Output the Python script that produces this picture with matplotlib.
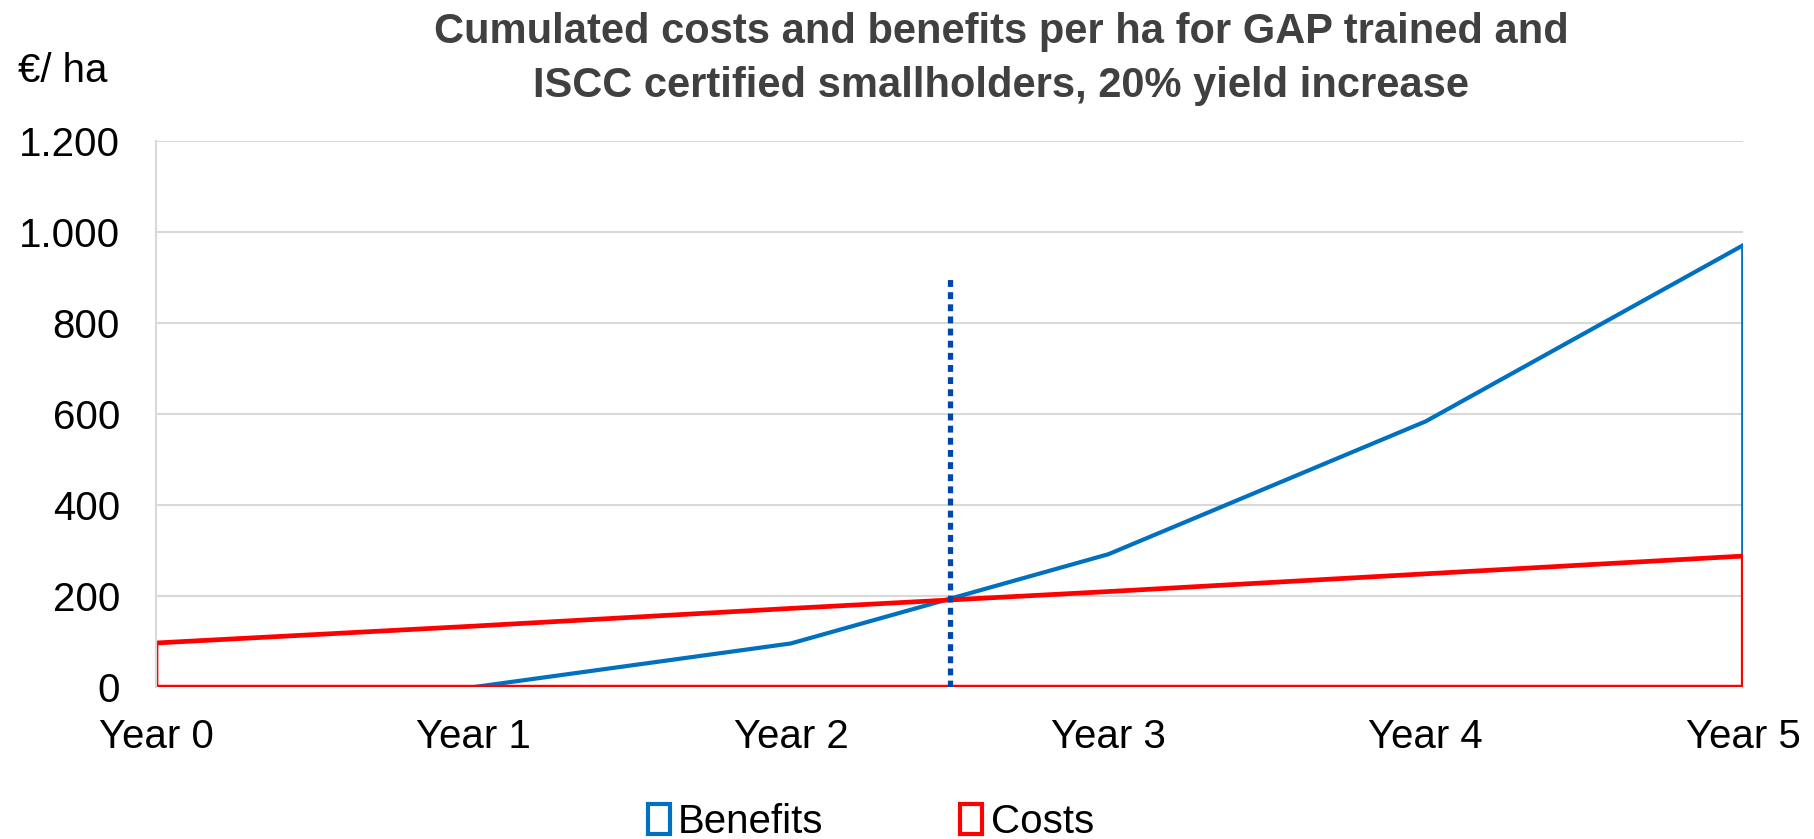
import matplotlib.pyplot as plt
from matplotlib.patches import Patch
from matplotlib.ticker import FuncFormatter

plt.rcParams['font.family'] = ['Liberation Sans', 'DejaVu Sans']

years = ["Year 0", "Year 1", "Year 2", "Year 3", "Year 4", "Year 5"]
benefits = [0, 0, 96, 292, 584, 971]
costs = [97, 134, 173, 210, 249, 288]
break_even = 2.5
break_even_top = 905

x = list(range(len(years)))

fig = plt.figure(figsize=(18.14, 8.39), dpi=100)
ax = fig.add_axes([0.086, 0.181, 0.875, 0.651])

# area outlines (no fill), as in the original spreadsheet chart
ax.fill(x + [x[-1], x[0]], benefits + [0, 0], fill=False, edgecolor="#0070C0", lw=3.0, joinstyle="miter")
ax.fill(x + [x[-1], x[0]], costs + [0, 0], fill=False, edgecolor="#FF0000", lw=3.4, joinstyle="miter")
ax.plot([x[0], x[0]], [0, costs[0]], color="#FF0000", lw=1)

ax.vlines(break_even, 0, break_even_top, color="#0047AB", lw=3.8, linestyles=(0, (1.3, 1.0)))

ax.set_xlim(0, 5)
ax.set_ylim(0, 1200)
ax.set_yticks(range(0, 1201, 200))
ax.yaxis.set_major_formatter(FuncFormatter(lambda v, p: f"{int(v):,}".replace(",", ".")))
ax.set_xticks(x)
ax.set_xticklabels(years)
ax.grid(axis="y", color="#D9D9D9", lw=1.5)
ax.set_axisbelow(True)
for s in ["top", "right", "bottom"]:
    ax.spines[s].set_visible(False)
ax.spines["left"].set_color("#D9D9D9")
ax.spines["left"].set_linewidth(1.5)
ax.tick_params(length=0, labelsize=29)
ax.tick_params(axis="y", pad=26)
ax.tick_params(axis="x", pad=22)

fig.text(0.552, 0.986, "Cumulated costs and benefits per ha for GAP trained and\nISCC certified smallholders, 20% yield increase",
         ha="center", va="top", fontsize=30, fontweight="bold", color="#404040", linespacing=1.45)
fig.text(0.01, 0.915, "€/ ha", ha="left", va="center", fontsize=29)

handles = [Patch(facecolor="white", edgecolor="#0070C0", lw=3, label="Benefits"),
           Patch(facecolor="white", edgecolor="#FF0000", lw=3, label="Costs")]
fig.legend(handles=handles, loc="center", bbox_to_anchor=(0.48, 0.02), ncol=2, frameon=False,
           fontsize=29, handlelength=0.55, handleheight=0.75, handletextpad=0.2, columnspacing=3.4)

fig.savefig("out.png", dpi=100)
